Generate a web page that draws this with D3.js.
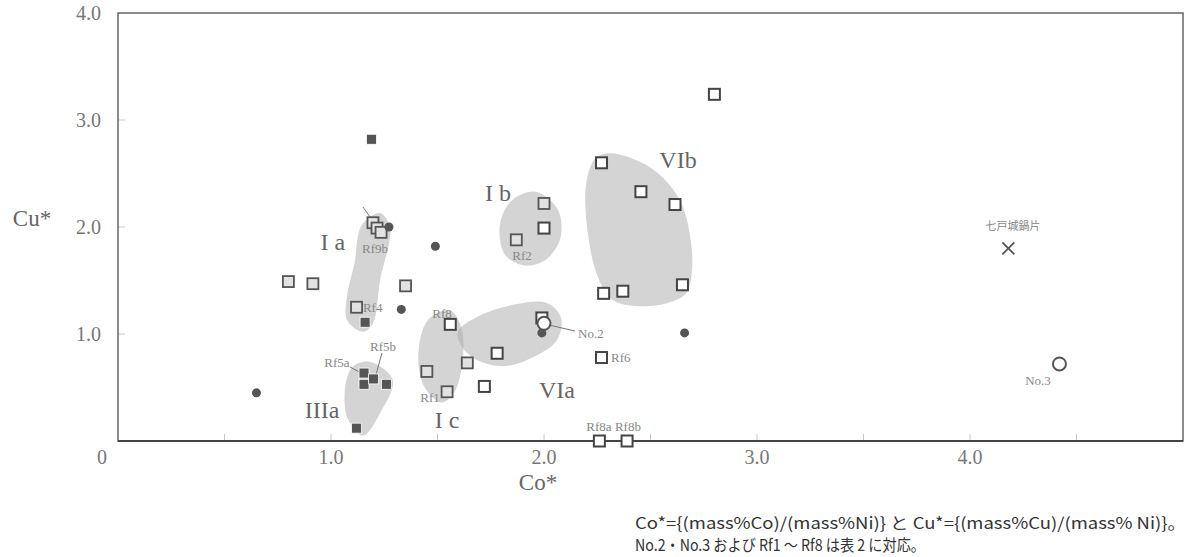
<!DOCTYPE html>
<html><head><meta charset="utf-8">
<script src="https://cdn.jsdelivr.net/npm/d3@7"></script>
<style>body{margin:0;background:#fff}svg{display:block}</style>
</head><body><svg id="c" width="1192" height="557"></svg>
<script>
// ---- data ----
const xTickValues = [0.5,1,1.5,2,2.5,3,3.5,4,4.5];
const xTickLabels = ["1.0","2.0","3.0","4.0"];
const xLabelValues = [1,2,3,4];
const yTickValues = [1,2,3];
const yTickLabels = ["1.0","2.0","3.0","4.0"];
const yLabelValues = [1,2,3,4];

const graySquares = [[0.80,1.49],[0.915,1.47],[1.35,1.45],[1.12,1.25],[1.197,2.04],[1.216,1.99],[1.235,1.95],[2.0,2.22],[1.87,1.88],[1.64,0.73],[1.45,0.65],[1.545,0.46]];
const whiteSquares = [[1.56,1.09],[2.0,1.99],[1.78,0.82],[1.72,0.51],[1.99,1.15],[2.27,0.78],[2.27,2.60],[2.455,2.33],[2.615,2.21],[2.28,1.38],[2.37,1.40],[2.65,1.46],[2.80,3.24],[2.26,0],[2.39,0]];
const darkSquares = [[1.19,2.82],[1.16,1.11],[1.155,0.635],[1.155,0.53],[1.20,0.58],[1.26,0.53],[1.12,0.12]];
const darkCircles = [[1.272,2.0],[1.49,1.82],[1.33,1.23],[0.65,0.45],[1.99,1.01],[2.66,1.01]];
const openCircles = [[2.0,1.10],[4.42,0.72]];
const crossPoints = [[4.18,1.80]];

const blobIa  = [[1.23,2.13],[1.277,1.99],[1.23,1.50],[1.197,1.10],[1.15,1.02],[1.075,1.13],[1.075,1.35],[1.11,1.66],[1.145,2.02]];
const blobIIIa= [[1.18,0.74],[1.29,0.57],[1.23,0.26],[1.15,0.05],[1.08,0.20],[1.065,0.48],[1.10,0.69]];
const blobIc  = [[1.56,1.22],[1.615,1.04],[1.615,0.71],[1.58,0.46],[1.52,0.36],[1.44,0.50],[1.41,0.80],[1.455,1.13]];
const blobVIa = [[1.596,1.02],[1.685,1.16],[1.873,1.28],[2.014,1.29],[2.08,1.15],[2.06,0.94],[1.95,0.785],[1.817,0.70],[1.685,0.757],[1.615,0.88]];
const blobIb  = [[1.96,2.33],[2.066,2.16],[2.075,1.88],[2.005,1.69],[1.91,1.64],[1.817,1.74],[1.793,2.02],[1.85,2.25]];
const blobVIb = [[2.31,2.69],[2.45,2.61],[2.554,2.47],[2.643,2.23],[2.685,1.925],[2.695,1.60],[2.667,1.38],[2.58,1.29],[2.45,1.26],[2.32,1.32],[2.25,1.55],[2.207,1.925],[2.197,2.39],[2.24,2.64]];

const groupNames = ["I a","I b","VIb","VIa","IIIa","I c"];
const groupAt = [[1.009,1.86],[1.784,2.318],[2.629,2.626],[2.061,0.477],[0.958,0.29],[1.545,0.196]];

const sampleNames = ["Rf9b","Rf4","Rf5a","Rf5b","Rf8","Rf1","Rf2","Rf6","Rf8a","Rf8b","No.2","No.3","七戸城鍋片"];
const sampleAt = [[1.207,1.80],[1.15,1.252],[1.028,0.729],[1.244,0.879],[1.521,1.196],[1.465,0.411],[1.897,1.729],[2.315,0.776],[2.258,0.14],[2.394,0.14],[2.16,1.009],[4.319,0.57],[4.202,2.019]];
const sampleAnchor = ["middle","start","middle","middle","middle","middle","middle","start","middle","middle","start","middle","middle"];
const leaders = [[[1.15,2.187],[1.197,2.056]],[[1.089,0.692],[1.141,0.636]],[[1.239,0.822],[1.211,0.617]],[[2.023,1.084],[2.146,1.028]]];

const note1 = "Co*={(mass%Co)/(mass%Ni)}  と Cu*={(mass%Cu)/(mass% Ni)}。";
const note2 = "No.2・No.3 および Rf1 ～ Rf8 は表 2 に対応。";

// ---- drawing ----
const svg = d3.select("#c");
const L=118,R=1183,T=13,B=441;
const x = d3.scaleLinear().domain([0,5]).range([L,R]);
const y = d3.scaleLinear().domain([0,4]).range([B,T]);
const serif = "'Liberation Serif','DejaVu Serif',serif";

// blobs
const blobLine = d3.line().x(d=>x(d[0])).y(d=>y(d[1])).curve(d3.curveCatmullRomClosed.alpha(0.5));
svg.append("g").selectAll("path").data([blobIa,blobIIIa,blobIc,blobVIa,blobIb,blobVIb]).join("path")
  .attr("d",blobLine).attr("fill","#a9a9a9").attr("fill-opacity",0.5).attr("stroke","none");

// axes ticks
const ax = svg.append("g");
ax.selectAll("line.xt").data(xTickValues).join("line")
  .attr("x1",d=>x(d)).attr("x2",d=>x(d)).attr("y1",B).attr("y2",B-7)
  .attr("stroke","#c8c8c8").attr("stroke-width",1);
ax.selectAll("line.yt").data(yTickValues).join("line")
  .attr("x1",L).attr("x2",L+7).attr("y1",d=>y(d)).attr("y2",d=>y(d))
  .attr("stroke","#c8c8c8").attr("stroke-width",1);
// frame
svg.append("rect").attr("x",L).attr("y",T).attr("width",R-L).attr("height",B-T)
  .attr("fill","none").attr("stroke","#666").attr("stroke-width",1.5);
svg.append("line").attr("x1",L).attr("x2",R).attr("y1",B).attr("y2",B).attr("stroke","#444").attr("stroke-width",2);

// tick labels
svg.selectAll("text.xl").data(xLabelValues).join("text")
  .attr("x",d=>x(d)).attr("y",457).attr("text-anchor","middle").attr("dominant-baseline","central")
  .attr("font-family",serif).attr("font-size",20).attr("fill","#777").text((d,i)=>xTickLabels[i]);
svg.selectAll("text.yl").data(yLabelValues).join("text")
  .attr("x",101).attr("y",d=>y(d)).attr("text-anchor","end").attr("dominant-baseline","central")
  .attr("font-family",serif).attr("font-size",20).attr("fill","#777").text((d,i)=>yTickLabels[i]);
svg.append("text").attr("x",102).attr("y",457).attr("text-anchor","middle").attr("dominant-baseline","central")
  .attr("font-family",serif).attr("font-size",20).attr("fill","#777").text("0");
svg.append("text").attr("x",32).attr("y",218).attr("text-anchor","middle").attr("dominant-baseline","central")
  .attr("font-family",serif).attr("font-size",23).attr("fill","#666").text("Cu*");
svg.append("text").attr("x",538).attr("y",482).attr("text-anchor","middle").attr("dominant-baseline","central")
  .attr("font-family",serif).attr("font-size",23).attr("fill","#666").text("Co*");

// group labels
svg.selectAll("text.g").data(groupNames).join("text")
  .attr("x",(d,i)=>x(groupAt[i][0])).attr("y",(d,i)=>y(groupAt[i][1]))
  .attr("text-anchor","middle").attr("dominant-baseline","central")
  .attr("font-family",serif).attr("font-size",24).attr("fill","#666").text(d=>d);

// leaders
svg.selectAll("line.ld").data(leaders).join("line")
  .attr("x1",d=>x(d[0][0])).attr("y1",d=>y(d[0][1])).attr("x2",d=>x(d[1][0])).attr("y2",d=>y(d[1][1]))
  .attr("stroke","#777").attr("stroke-width",1);

// markers
const g = svg.append("g");
const sq = 11;
g.selectAll("rect.gs").data(graySquares).join("rect")
  .attr("x",d=>x(d[0])-sq/2).attr("y",d=>y(d[1])-sq/2).attr("width",sq).attr("height",sq)
  .attr("fill","#e2e2e2").attr("stroke","#555").attr("stroke-width",1.8);
g.selectAll("rect.ws").data(whiteSquares).join("rect")
  .attr("x",d=>x(d[0])-sq/2).attr("y",d=>y(d[1])-sq/2).attr("width",sq).attr("height",sq)
  .attr("fill","#fff").attr("stroke","#444").attr("stroke-width",2);
g.selectAll("rect.ds").data(darkSquares).join("rect")
  .attr("x",d=>x(d[0])-5).attr("y",d=>y(d[1])-5).attr("width",10).attr("height",10)
  .attr("fill","#555").attr("stroke","#fff").attr("stroke-width",0.8);
g.selectAll("circle.dc").data(darkCircles).join("circle")
  .attr("cx",d=>x(d[0])).attr("cy",d=>y(d[1])).attr("r",4.5).attr("fill","#555");
g.selectAll("circle.oc").data(openCircles).join("circle")
  .attr("cx",d=>x(d[0])).attr("cy",d=>y(d[1])).attr("r",6.5).attr("fill","#fff").attr("stroke","#555").attr("stroke-width",2);
const cr = 6;
crossPoints.forEach(p=>{
  const cx=x(p[0]), cy=y(p[1]);
  g.append("path").attr("d",`M${cx-cr},${cy-cr}L${cx+cr},${cy+cr}M${cx-cr},${cy+cr}L${cx+cr},${cy-cr}`)
   .attr("stroke","#555").attr("stroke-width",1.8).attr("fill","none");
});

// sample labels
svg.selectAll("text.s").data(sampleNames).join("text")
  .attr("x",(d,i)=>x(sampleAt[i][0])).attr("y",(d,i)=>y(sampleAt[i][1]))
  .attr("text-anchor",(d,i)=>sampleAnchor[i]).attr("dominant-baseline","central")
  .attr("font-family",(d,i)=>i===12?"'Noto Sans CJK JP',sans-serif":serif)
  .attr("font-size",(d,i)=>i===12?11:13).attr("fill","#888").text(d=>d);

// notes
const sans = "'Noto Sans CJK JP','Noto Sans',sans-serif";
svg.append("text").attr("x",635).attr("y",522).attr("dominant-baseline","central")
  .attr("font-family",sans).attr("font-size",16).attr("fill","#333")
  .attr("textLength",551).attr("lengthAdjust","spacingAndGlyphs").text(note1);
svg.append("text").attr("x",635).attr("y",544).attr("dominant-baseline","central")
  .attr("font-family",sans).attr("font-size",16).attr("fill","#333")
  .attr("textLength",290).attr("lengthAdjust","spacingAndGlyphs").text(note2);
</script></body></html>
